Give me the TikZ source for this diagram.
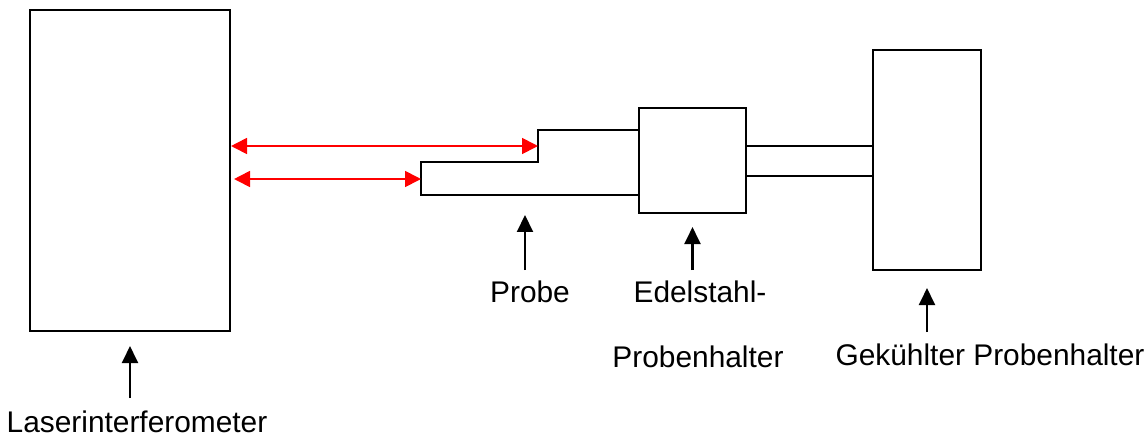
\documentclass[tikz,border=0pt]{standalone}
\usepackage{fontspec}
\setmainfont{Liberation Sans}
\usetikzlibrary{arrows.meta, positioning}

\begin{document}
\begin{tikzpicture}[
    x=0.02cm, y=-0.02cm,
    part/.style={rectangle, draw=black, line width=1.2pt, inner sep=0pt},
    lbl/.style={anchor=base, inner sep=0pt, font=\fontsize{17}{20}\selectfont},
    pointer/.style={-{Triangle[length=0.34cm, width=0.32cm]}, line width=1.2pt},
    beam/.style={{Triangle[length=0.32cm, width=0.32cm]}-{Triangle[length=0.32cm, width=0.32cm]},
                 line width=1pt, color=red}
]
\useasboundingbox (0,0) rectangle (1147,437);

% apparatus
\node[part, minimum width=4cm, minimum height=6.42cm] (laser) at (130,170.5) {};
\node[part, minimum width=2.14cm, minimum height=2.1cm] (edel) at (692.5,160.5) {};
\node[part, minimum width=2.16cm, minimum height=4.4cm] (cool) at (927,160) {};
\node[part, minimum width=2.54cm, minimum height=0.6cm] (rod) at (809.5,161) {};

% stepped sample
\coordinate (p1) at (538,130);
\coordinate (p2) at (538,162);
\coordinate (p3) at (421,162);
\coordinate (p4) at (421,195);
\draw[line width=1.2pt] (edel.west |- p1) -- (p1) -- (p2) -- (p3) -- (p4) -- (edel.west |- p4);

% laser beams
\coordinate (stepface) at (538,146);
\coordinate (tipface) at (421,179);
\draw[beam] (laser.east |- stepface) -- (stepface);
\draw[beam, shorten <=0.06cm] (laser.east |- tipface) -- (tipface);

% labels
\node[lbl] (laserlbl) at (137,432) {Laserinterferometer};
\node[lbl] (probelbl) at (530,302) {Probe};
\node[lbl] (edellbl) at (700,302) {Edelstahl-};
\node[lbl] (edellblb) at (698,367) {Probenhalter};
\node[lbl] (coollbl) at (990,365) {Gekühlter Probenhalter};

% pointers
\coordinate (laserarr) at (130,398);
\coordinate (probearr) at (525,270);
\coordinate (edelarr) at (692.5,270);
\coordinate (coolarr) at (927,332);
\draw[pointer, shorten >=0.28cm] (laserarr) -- (laser.south);
\draw[pointer, shorten >=0.4cm] (probearr) -- (probearr |- p4);
\draw[pointer, shorten >=0.26cm] (edelarr) -- (edel.south);
\draw[pointer, shorten >=0.34cm] (coolarr) -- (cool.south);
\end{tikzpicture}
\end{document}
